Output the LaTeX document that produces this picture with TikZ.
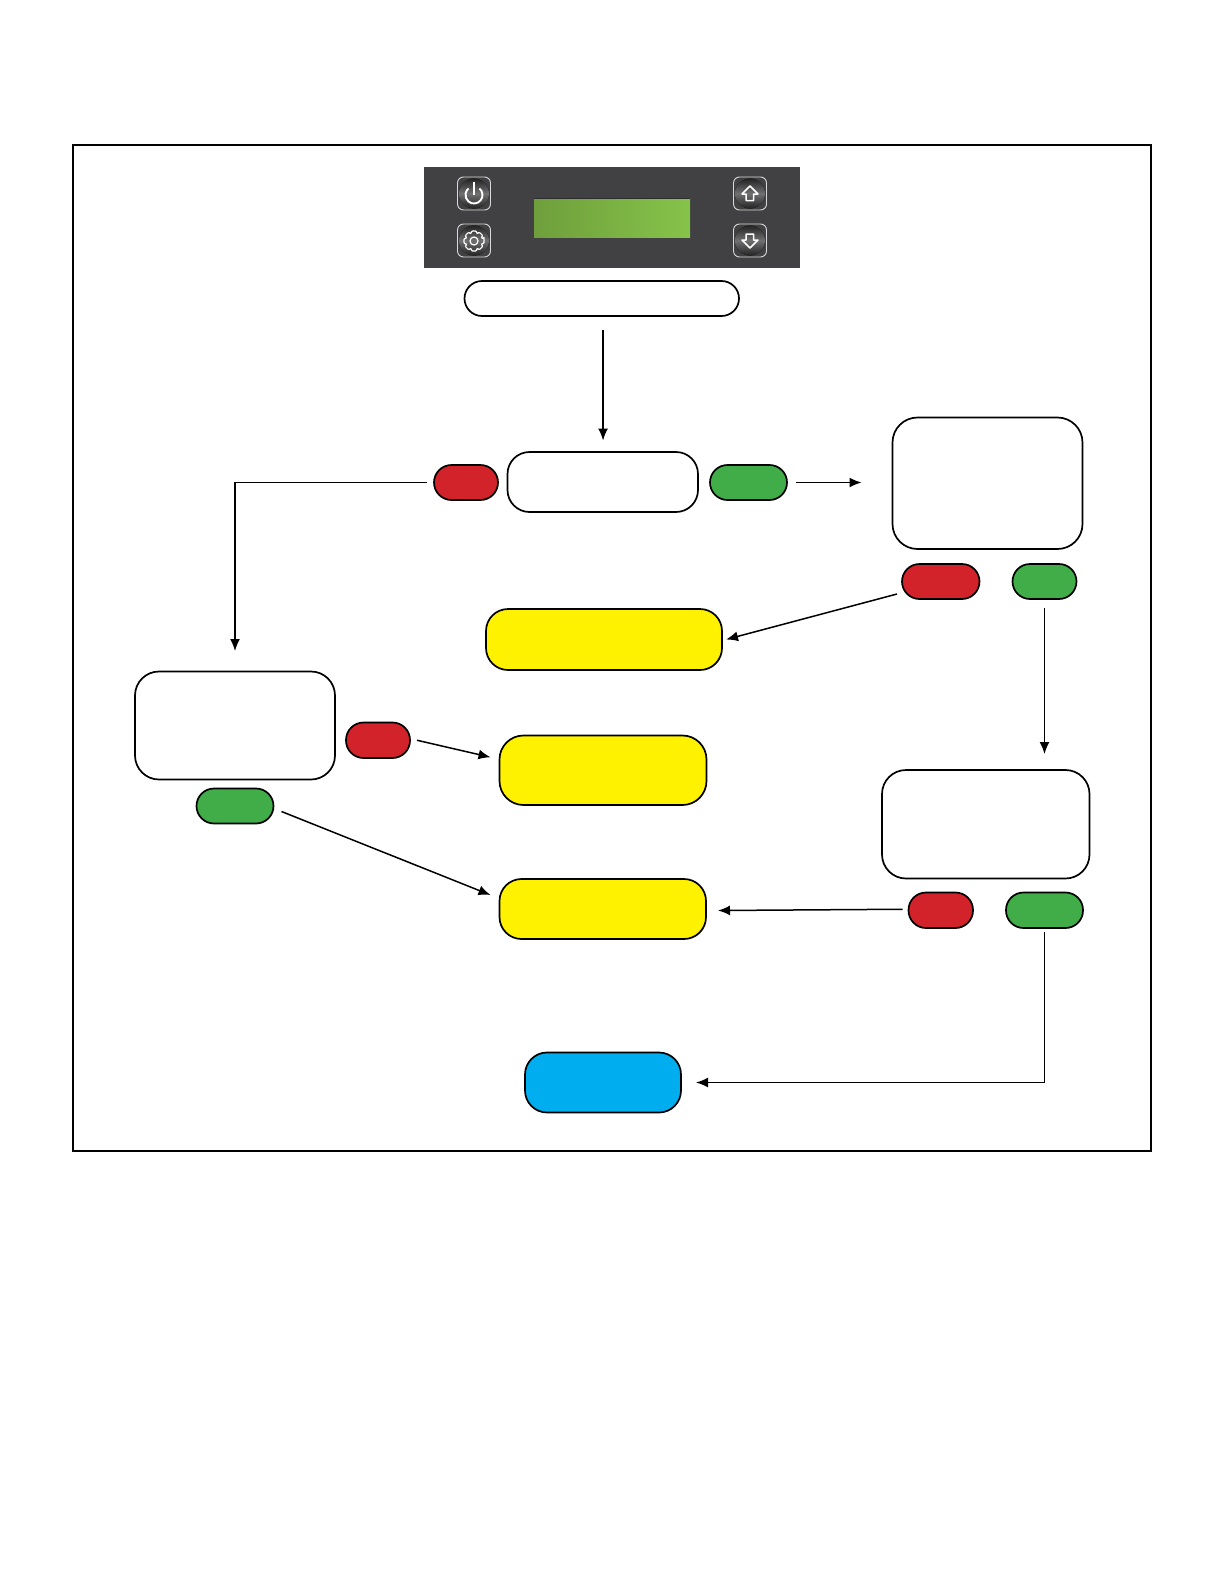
\documentclass[tikz,border=0pt]{standalone}
\usetikzlibrary{arrows.meta}
\definecolor{rd}{HTML}{D2232A}
\definecolor{gn}{HTML}{41AD49}
\definecolor{yl}{HTML}{FFF200}
\definecolor{bl}{HTML}{00AEEF}
\definecolor{pn}{HTML}{414042}
\definecolor{lcdA}{HTML}{6F9F3C}
\definecolor{lcdB}{HTML}{86C34A}
\tikzset{
  outl/.style={draw=black,line width=1.7pt,inner sep=0pt,outer sep=0pt},
  whitebox/.style={outl,fill=white,rounded corners=22pt},
  yellowbox/.style={outl,fill=yl,rounded corners=22pt},
  bluebox/.style={outl,fill=bl,rounded corners=22pt},
  redpill/.style={outl,fill=rd,rounded corners=17.5pt},
  greenpill/.style={outl,fill=gn,rounded corners=17.5pt},
  keybtn/.style={draw=white!85!black,line width=.9pt,rounded corners=6pt,inner sep=0pt,outer sep=0pt,minimum width=33pt,minimum height=33pt},
  keydisc/.style={top color=black!45!pn,bottom color=black!45!pn,middle color=pn!75!white},
  glyph/.style={draw=white,line width=1.2pt,line join=round},
  arr/.style={draw=black,line width=1.5pt,-{Latex[length=12pt,width=10pt]}},
}
\newcommand{\bx}[6]{\node[#1,minimum width={(#5)-(#3)},minimum height={(#6)-(#4)}] (#2) at ({((#3)+(#5))/2},{((#4)+(#6))/2}) {};}
\begin{document}
\begin{tikzpicture}[x=1pt,y=-1pt]
\useasboundingbox (0,0) rectangle (1224,1584);
\bx{draw=black,line width=1.5pt,inner sep=0pt}{frame}{73}{145}{1151}{1151}
% control panel
\bx{fill=pn,inner sep=0pt}{panel}{423.5}{167}{800}{267.5}
\bx{inner sep=0pt,left color=lcdA,right color=lcdB}{lcd}{534}{198.5}{690}{237}
\fill[black!30!pn] (534,197.5) rectangle (690,198.5);
\foreach \n/\cx/\cy in {kp/474/193.5,ks/474/240.5,ku/750/193.5,kd/750/240.5}{
  \fill[keydisc] (\cx,\cy) circle (15pt);
  \node[keybtn] (\n) at (\cx,\cy) {};
}
% power glyph
\draw[glyph,line width=1.9pt] (474,195)+(-50:8.5) arc[start angle=-50,end angle=230,x radius=8.5,y radius=8.5];
\draw[glyph,line width=1.9pt] (474,182) -- (474,195);
% gear glyph
\begin{scope}[shift={(474,241)}]
\draw[glyph,rounded corners=1pt] (-14:10.3) foreach \a in {0,45,...,315} { -- (\a-14:10.3) -- (\a+14:10.3) -- (\a+22:7.6) } -- cycle;
\draw[glyph] (0,0) circle (4pt);
\end{scope}
% arrow glyphs
\draw[glyph,line width=1.5pt] (750,186) -- (758,194) -- (753.5,194) -- (753.5,200.5) -- (746,200.5) -- (746,194) -- (742,194) -- cycle;
\draw[glyph,line width=1.5pt] (750,248) -- (758,240) -- (753.5,240) -- (753.5,234) -- (746,234) -- (746,240) -- (742,240) -- cycle;
% boxes
\bx{outl,fill=white,rounded corners=17.5pt}{start}{464.5}{281}{739}{316}
\bx{whitebox}{q1}{507.5}{452}{698}{512}
\bx{redpill}{q1no}{434}{465}{498}{500}
\bx{greenpill}{q1yes}{710}{465}{787}{500}
\bx{whitebox,rounded corners=25pt}{q2}{892.5}{417.5}{1082.5}{549}
\bx{redpill}{q2no}{902}{564}{979.5}{599}
\bx{greenpill}{q2yes}{1012.5}{564}{1076.5}{599}
\bx{yellowbox}{y1}{486}{609}{722}{670}
\bx{whitebox,rounded corners=24pt}{q3}{135}{671.5}{335}{779.5}
\bx{redpill}{q3no}{346}{722.5}{410}{758}
\bx{greenpill}{q3yes}{196.5}{788.5}{273.5}{823.5}
\bx{yellowbox,rounded corners=24pt}{y2}{499.5}{735.5}{706.5}{805}
\bx{yellowbox}{y3}{499.5}{879}{706}{939}
\bx{whitebox,rounded corners=24pt}{q4}{882}{770}{1089.5}{878.5}
\bx{redpill}{q4no}{908.5}{892.5}{973}{928}
\bx{greenpill}{q4yes}{1006}{892.5}{1083}{928}
\bx{bluebox}{done}{525}{1052.5}{681}{1112.5}
% connectors
\draw[arr] ([xshift=1.3pt,yshift=-14pt]start.south) -- ([xshift=.3pt,yshift=11.5pt]q1.north);
\draw[arr] ([xshift=-7pt]q1no.west) -| ([yshift=20.5pt]q3.north);
\draw[arr] ([xshift=9pt]q1yes.east) -- ([xshift=-31pt,yshift=.75pt]q2.west);
\draw[arr] ([xshift=-5pt,yshift=5pt]q2no.south west) -- ([xshift=4pt,yshift=0pt]y1.east);
\draw[arr] ([yshift=-9pt]q2yes.south) -- ([yshift=16pt]q4.north -| q2yes.south);
\draw[arr] ([xshift=7pt]q3no.east) -- ([xshift=-9pt,yshift=13pt]y2.west);
\draw[arr] ([xshift=8pt,yshift=12pt]q3yes.south east) -- ([xshift=-9pt,yshift=14pt]y3.west);
\draw[arr] ([xshift=-6pt,yshift=1pt]q4no.west) -- ([xshift=12pt,yshift=-1.5pt]y3.east);
\draw[arr] ([yshift=-4pt]q4yes.south -| q2yes.south) |- ([xshift=15pt]done.east);
\end{tikzpicture}
\end{document}
